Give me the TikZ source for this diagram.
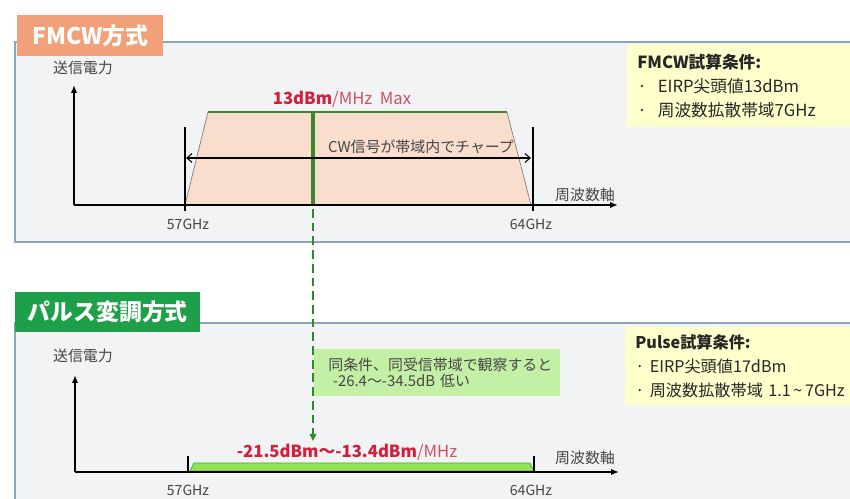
\documentclass[tikz,border=0pt]{standalone}
\usepackage{fontspec}
\setmainfont{Noto Sans CJK JP}
\usetikzlibrary{positioning}
\usetikzlibrary{arrows.meta}
\definecolor{panelg}{RGB}{242,243,244}
\definecolor{panelb}{RGB}{140,165,190}
\definecolor{salmon}{RGB}{242,160,122}
\definecolor{peach}{RGB}{250,222,205}
\definecolor{gbar}{RGB}{60,135,45}
\definecolor{gdash}{RGB}{40,140,40}
\definecolor{band}{RGB}{146,226,88}
\definecolor{bandb}{RGB}{90,170,60}
\definecolor{notebg}{RGB}{196,240,166}
\definecolor{yel}{RGB}{255,255,204}
\definecolor{tabg}{RGB}{30,160,75}
\definecolor{redt}{RGB}{210,30,60}
\definecolor{pinkt}{RGB}{205,80,100}
\definecolor{greyt}{RGB}{70,70,70}
\tikzset{
    panel/.style = {draw=panelb, fill=panelg, line width=0.7pt},
    tabf/.style = {fill=salmon, text=white, inner sep=0pt, font=\bfseries\fontsize{13}{13}\selectfont},
    tabp/.style = {fill=tabg, text=white, inner sep=0pt, font=\bfseries\fontsize{13}{13}\selectfont},
    lbl/.style = {text=greyt, inner sep=1pt, font=\fontsize{8.5}{10}\selectfont},
    ghz/.style = {text=greyt, inner sep=1pt, font=\fontsize{8}{10}\selectfont},
    axis/.style = {-{Latex[length=4.5pt,width=3.6pt]}, line width=1.6pt, black},
    tickline/.style = {-, line width=0.6pt, black},
    chirp/.style = {{Straight Barb[length=3pt,width=5pt]}-{Straight Barb[length=3pt,width=5pt]}, line width=0.6pt, black},
    slant/.style = {-, line width=0.4pt, gray},
    topedge/.style = {-, line width=0.6pt, gbar},
    edgegd/.style = {-{Triangle[length=4pt,width=3.6pt]}, line width=1.7pt, gdash, dash pattern=on 5pt off 2.8pt}, % link
    condbox/.style = {fill=yel, anchor=north west, align=left, inner xsep=0.2cm, text width=6cm, font=\fontsize{9.5}{13.6}\selectfont, text=black!85},
    notebox/.style = {fill=notebg, anchor=north west, align=left, inner xsep=0.28cm, text width=4.36cm, minimum height=0.94cm, font=\fontsize{8.5}{9.6}\selectfont, text=greyt}
}
\begin{document}
\begin{tikzpicture}[x=0.02cm, y=-0.02cm]
  \useasboundingbox (0,0) rectangle (850,499);
  % FMCW
  \draw[panel] (15,42) rectangle (870,242);
  \node[tabf, anchor=north west, minimum width=2.92cm, minimum height=0.82cm] (tf) at (17,15) {FMCW方式};
  \node[lbl] (pf) at (83,68) {送信電力};
  \coordinate (fo) at (74,205);
  \coordinate (fy) at (74,85);
  \coordinate (fx) at (618,205);
  \coordinate (fa) at (185,205);
  \coordinate (ftl) at (208,112);
  \coordinate (ftr) at (507,112);
  \coordinate (fb) at (531,205);
  \fill[peach] (fa) -- (ftl) -- (ftr) -- (fb) -- cycle;
  \draw[slant] (fa) -- (ftl);
  \draw[slant] (ftr) -- (fb);
  \draw[topedge] (ftl) -- (ftr);
  \coordinate (fbt) at (313,112);
  \coordinate (fbb) at (313,205);
  \draw[line width=2.3pt, gbar] (fbt) -- (fbb);
  \coordinate (fl1) at (185,127);
  \coordinate (fl2) at (185,211);
  \coordinate (fr1) at (533,127);
  \coordinate (fr2) at (533,211);
  \draw[tickline] (fl1) -- (fl2);
  \draw[tickline] (fr1) -- (fr2);
  \coordinate (fcl) at (186,158);
  \coordinate (fcr) at (531,158);
  \draw[chirp] (fcl) -- (fcr);
  \node[lbl] (cw) at (421,147) {CW信号が帯域内でチャープ};
  \draw[axis] (fo) -- (fy);
  \draw[axis] (fo) -- (fx);
  \node[lbl] (fxl) at (585,195) {周波数軸};
  \node[font=\fontsize{9.5}{11}\selectfont, inner sep=1pt] (fmax) at (342,99) {\textcolor{redt}{\bfseries 13dBm}\textcolor{pinkt}{/MHz\ \ Max}};
  \node[ghz] (f57) at (188,224) {57GHz};
  \node[ghz] (f64) at (531,224) {64GHz};
  \node[condbox, minimum height=1.66cm] (fcond) at (627,44) {\textbf{FMCW試算条件:}\\ ·\ \ EIRP尖頭値13dBm\\ ·\ \ 周波数拡散帯域7GHz};
  % Pulse
  \draw[panel] (15,323) rectangle (870,510);
  \node[tabp, anchor=north west, minimum width=3.7cm, minimum height=0.8cm] (tp) at (15,292) {パルス変調方式};
  \node[lbl] (pp) at (83,356) {送信電力};
  \coordinate (po) at (75,472);
  \coordinate (py) at (75,375);
  \coordinate (px) at (619,472);
  \coordinate (pa) at (190,471);
  \coordinate (ptl) at (194,463);
  \coordinate (ptr) at (530,463);
  \coordinate (pb) at (534,471);
  \filldraw[fill=band, draw=bandb, line width=0.4pt] (pa) -- (ptl) -- (ptr) -- (pb) -- cycle;
  \coordinate (pl1) at (188,456);
  \coordinate (pl2) at (188,472);
  \coordinate (pr1) at (534,456);
  \coordinate (pr2) at (534,472);
  \draw[tickline] (pl1) -- (pl2);
  \draw[tickline] (pr1) -- (pr2);
  \draw[axis] (po) -- (py);
  \draw[axis] (po) -- (px);
  \node[lbl] (pxl) at (585,458) {周波数軸};
  \node[font=\fontsize{9.5}{11}\selectfont, inner sep=1pt] (pmax) at (347,452) {\textcolor{redt}{\bfseries -21.5dBm～-13.4dBm}\textcolor{pinkt}{/MHz}};
  \node[ghz] (p57) at (188,490) {57GHz};
  \node[ghz] (p64) at (531,490) {64GHz};
  \node[notebox, minimum width=4.92cm] (note) at (314,349) {同条件、同受信帯域で観察すると\\ \hspace{0.3em}-26.4～-34.5dB 低い};
  \node[condbox, minimum height=1.56cm, font=\fontsize{9.2}{13.6}\selectfont] (pcond) at (625,327) {\textbf{Pulse試算条件:}\\ · EIRP尖頭値17dBm\\ · 周波数拡散帯域 1.1\,\textasciitilde\,7GHz};
  % link
  \coordinate (ls) at (313,209);
  \coordinate (le) at (313,441);
  \draw[edgegd] (ls) -- (le);
\end{tikzpicture}
\end{document}
